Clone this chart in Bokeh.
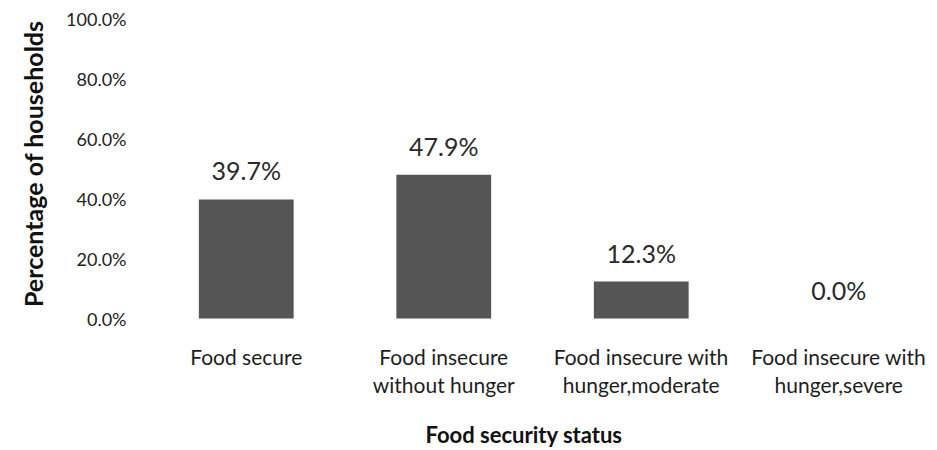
from bokeh.plotting import figure
from bokeh.models import ColumnDataSource, Range1d, FixedTicker, Title
from bokeh.core.properties import value
from bokeh.embed import file_html
from bokeh.resources import INLINE

categories = ["Food secure", "Food insecure without hunger",
              "Food insecure with hunger,moderate", "Food insecure with hunger,severe"]
tick_labels = ["Food secure", "Food insecure\nwithout hunger",
               "Food insecure with\nhunger,moderate", "Food insecure with\nhunger,severe"]
values = [39.7, 47.9, 12.3, 0.0]
value_labels = ["39.7%", "47.9%", "12.3%", "0.0%"]
y_ticks = [0, 20, 40, 60, 80, 100]
baseline = [0, 0, 0, 0]

FONT = "Lato"

src = ColumnDataSource(dict(cat=categories, val=values, lab=value_labels,
                            tl=tick_labels, base=baseline))

p = figure(x_range=categories, y_range=Range1d(-27.33, 100),
           frame_width=790, frame_height=382,
           output_backend="svg", toolbar_location=None,
           min_border_left=147, min_border_right=0, min_border_top=18, min_border_bottom=48)
p.outline_line_color = None
p.grid.grid_line_color = None
p.background_fill_color = "white"

p.vbar(x="cat", top="val", bottom="base", width=0.48, source=src,
       fill_color="#555555", line_color=None)
p.text(x="cat", y="val", text="lab", source=src, text_align="center", text_baseline="bottom",
       y_offset=-14, text_font=value(FONT), text_font_size="25px", text_color="#2a2a2a")
# category labels (multi-line) placed under the zero line
p.text(x="cat", y="base", text="tl", source=src, text_align="center", text_baseline="top",
       y_offset=25, text_font=value(FONT), text_font_size="21px", text_color="#1e1e1e",
       text_line_height=1.15)

ya = p.yaxis[0]
ya.ticker = FixedTicker(ticks=y_ticks)
ya.major_label_overrides = {t: f"{t:.1f}%" for t in y_ticks}
ya.axis_line_color = None
ya.major_tick_line_color = None
ya.minor_tick_line_color = None
ya.major_label_standoff = 15
ya.major_label_text_font = FONT
ya.major_label_text_font_size = "18px"
ya.major_label_text_color = "#222222"

ytitle = Title(text="Percentage of households", align="right", offset=2, standoff=31,
               text_font=FONT, text_font_style="bold", text_font_size="25px",
               text_color="#111111")
p.add_layout(ytitle, "left")

xa = p.xaxis[0]
xa.axis_line_color = None
xa.major_tick_line_color = None
xa.minor_tick_line_color = None
xa.major_label_text_alpha = 0
xa.major_label_text_font_size = "1px"
xa.major_label_standoff = 0

xtitle = Title(text="Food security status", align="left", offset=278, standoff=25,
               text_font=FONT, text_font_style="bold", text_font_size="22px",
               text_color="#111111")
p.add_layout(xtitle, "below")

open("out.html", "w").write(file_html(p, INLINE))
